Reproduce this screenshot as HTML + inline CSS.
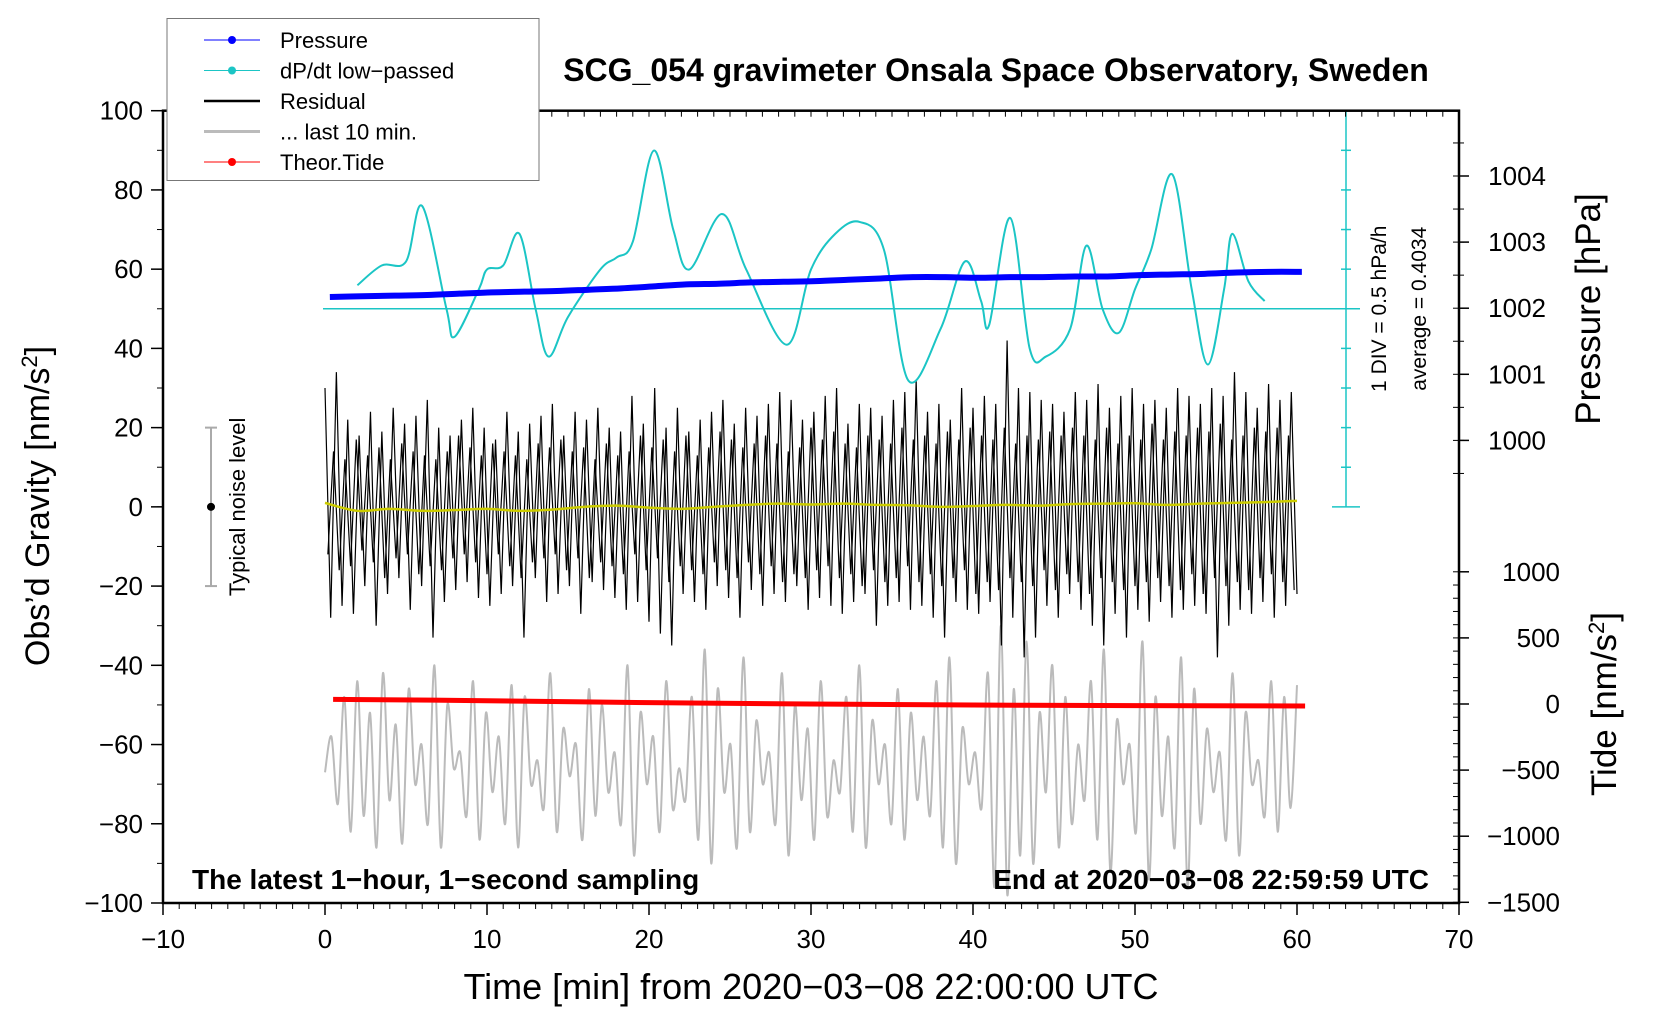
<!DOCTYPE html>
<html><head><meta charset="utf-8"><style>
body{margin:0;background:#fff}
svg{display:block;font-family:"Liberation Sans",Arial,sans-serif}
</style></head><body>
<svg id="c" width="1660" height="1020" viewBox="0 0 1660 1020"></svg>
<script>
const categoriesX=[-10,0,10,20,30,40,50,60,70];
const gravTicks=[100,80,60,40,20,0,-20,-40,-60,-80,-100];
const pressTicks=[1000,1001,1002,1003,1004];
const tideTicks=[1000,500,0,-500,-1000,-1500];
const pressure=[1002.17,1002.18,1002.19,1002.2,1002.22,1002.24,1002.25,1002.26,1002.28,1002.3,1002.33,1002.36,1002.37,1002.39,1002.40,1002.41,1002.43,1002.45,1002.47,1002.47,1002.46,1002.47,1002.47,1002.48,1002.48,1002.50,1002.51,1002.52,1002.54,1002.55,1002.55];
const dpdtTime=[2,3.5,5,6,7.5,8,9.5,10,11,12,13,13.8,15,17,18,19,20.3,21.5,22.5,24.5,26,28.5,30,31.5,33,34.5,36,38,39.5,40.5,41,42.3,43.5,44.5,46,47,48,49,50,51,52.3,53.5,54.5,55.5,56,57,58];
const dpdtValue=[0.70,0.95,1.00,1.70,0.40,0.05,0.65,0.90,0.95,1.35,0.40,-0.20,0.30,0.90,1.05,1.25,2.40,1.40,0.90,1.60,0.90,-0.05,0.90,1.35,1.50,1.15,-0.50,0.15,1.00,0.50,0.20,1.55,-0.10,-0.20,0.15,1.20,0.40,0.10,0.65,1.15,2.10,0.65,-0.30,0.65,1.35,0.75,0.50];
const residual=[30,-28,34,-25,22,-27,18,-20,24,-30,19,-22,25,-18,21,-26,23,-20,27,-33,20,-24,18,-21,22,-19,25,-23,20,-25,17,-22,24,-20,19,-33,21,-18,23,-24,26,-22,18,-20,24,-27,22,-19,25,-21,20,-23,19,-26,28,-24,21,-29,30,-32,20,-35,25,-22,19,-24,22,-26,24,-20,27,-23,21,-28,25,-21,23,-25,26,-22,29,-24,27,-20,22,-26,24,-23,28,-25,30,-27,21,-24,26,-22,25,-30,23,-25,27,-24,29,-26,32,-25,24,-28,26,-33,22,-24,30,-26,25,-27,28,-24,26,-35,42,-28,30,-38,29,-33,27,-25,26,-28,24,-22,29,-26,27,-30,31,-35,25,-27,28,-33,30,-26,26,-29,27,-24,25,-28,30,-26,28,-25,26,-27,30,-38,28,-30,34,-26,29,-27,25,-24,31,-28,27,-25,29,-22];
const residualFine=[-12,14,-16,12,-15,17,-11,13,-14,15,-18,12,-13,16,-12,14,-17,13,-15,12,-16,14,-13,18,-12,15,-14,13,-17,16,-12,14,-15,13,-18,12,-14,16,-13,15,-12,17,-16,14,-13,15,-18,12,-14,16,-15,13,-17,14,-12,18,-16,15,-13,17,-19,14,-15,18,-16,13,-17,15,-14,19,-16,17,-18,15,-14,16,-17,18,-15,16,-19,14,-17,15,-18,20,-16,17,-15,19,-18,16,-17,15,-20,18,-16,17,-19,16,-18,20,-15,17,-19,18,-17,16,-20,19,-18,17,-16,20,-22,18,-19,17,-21,20,-18,16,-19,18,-20,17,-16,19,-21,18,-17,20,-19,18,-22,17,-18,20,-19,16,-21,18,-20,17,-19,21,-18,17,-20,19,-21,18,-17,20,-22,19,-18,21,-20,17,-19,18,-21,20,-18,19,-17,20,-19,18,-21,17,-18,16];
const residualSmooth=[1,-1,-0.5,-1,-0.8,-0.5,-1,-0.7,0,0.3,-0.2,-0.5,0,0.5,0.8,0.6,0.8,0.5,0.4,0,0.2,0.5,0.3,0.7,0.8,0.9,0.5,0.8,1,1.2,1.5];
const last10=[-67,-58,-75,-48,-82,-44,-78,-52,-86,-42,-74,-55,-85,-46,-70,-60,-80,-40,-86,-50,-66,-62,-78,-44,-84,-52,-72,-58,-80,-45,-86,-48,-70,-64,-76,-42,-82,-56,-68,-60,-84,-46,-78,-50,-72,-62,-80,-40,-88,-52,-70,-58,-82,-44,-76,-66,-74,-48,-84,-36,-90,-46,-72,-60,-86,-38,-82,-54,-70,-62,-80,-42,-88,-50,-74,-56,-84,-44,-78,-64,-72,-48,-82,-40,-86,-54,-70,-60,-80,-46,-84,-52,-74,-58,-78,-44,-86,-38,-90,-56,-70,-62,-76,-42,-96,-30,-98,-46,-88,-34,-90,-52,-72,-40,-86,-48,-80,-60,-74,-44,-84,-36,-92,-54,-70,-60,-82,-34,-94,-48,-78,-58,-86,-38,-96,-46,-80,-56,-72,-62,-84,-42,-88,-52,-70,-64,-78,-44,-82,-48,-76,-45];
const tideTime=[0.5,10,20,30,40,50,60.5];
const tideValue=[35,25,10,0,-8,-12,-15];

const L=163,R=1459,T=110.7,B=903;
const X=t=>L+(t+10)*(R-L)/80;
const Y=g=>T+(100-g)*(B-T)/200;
const YP=p=>176+(1004-p)*66.1;
const YT=v=>704-v*66.1/500;
const DIV=Y(40)-Y(50);
const YD=v=>Y(50)-(v-0.4034)/0.5*DIV;
const svg=document.getElementById('c');
const NS='http://www.w3.org/2000/svg';
function mk(tag,at,parent){const e=document.createElementNS(NS,tag);for(const k in at)e.setAttribute(k,at[k]);(parent||svg).appendChild(e);return e;}
function txt(s,at,parent){const e=mk('text',at,parent);e.textContent=s;return e;}
function smooth(pts){let d='M'+pts[0][0]+','+pts[0][1];for(let i=0;i<pts.length-1;i++){const p0=pts[Math.max(0,i-1)],p1=pts[i],p2=pts[i+1],p3=pts[Math.min(pts.length-1,i+2)];d+=' C'+(p1[0]+(p2[0]-p0[0])/6)+','+(p1[1]+(p2[1]-p0[1])/6)+' '+(p2[0]-(p3[0]-p1[0])/6)+','+(p2[1]-(p3[1]-p1[1])/6)+' '+p2[0]+','+p2[1];}return d;}

// grey last 10 min
let g=mk('path',{d:smooth(last10.map((v,i)=>[X(i*60/(last10.length-1)),Y(v)])),fill:'none',stroke:'#bbb','stroke-width':2});

// residual: two phase-shifted sample sets
const n=residual.length;
let r=mk('polyline',{points:residual.map((v,i)=>X(i*60/(n-1))+','+Y(v)).join(' '),fill:'none',stroke:'#000','stroke-width':1.2});

let r2=mk('polyline',{points:residualFine.slice(0,n-1).map((v,i)=>X((i+0.5)*60/(n-1))+','+Y(v)).join(' '),fill:'none',stroke:'#000','stroke-width':1.2});

let ys=mk('path',{d:smooth(residualSmooth.map((v,i)=>[X(i*2),Y(v)])),fill:'none',stroke:'#cccc00','stroke-width':2.5});

// tide
let td=mk('path',{d:smooth(tideTime.map((t,i)=>[X(t),YT(tideValue[i])])),fill:'none',stroke:'#f00','stroke-width':5});

// cyan reference
mk('line',{x1:X(0)-2,x2:1360,y1:Y(50),y2:Y(50),stroke:'#1bc5c5','stroke-width':1.5});
mk('line',{x1:1346,x2:1346,y1:T,y2:Y(0),stroke:'#1bc5c5','stroke-width':1.5});
for(let k=0;k<=10;k++){const yy=Y(100-k*10);const w=(k==0||k==5||k==10)?14:5;mk('line',{x1:1346-w,x2:1346+w,y1:yy,y2:yy,stroke:'#1bc5c5','stroke-width':1.5});}
let cy=mk('path',{d:smooth(dpdtTime.map((t,i)=>[X(t),YD(dpdtValue[i])])),fill:'none',stroke:'#1bc5c5','stroke-width':2});

// pressure
let pr=mk('path',{d:smooth(pressure.map((p,i)=>[X(i*2+0.3),YP(p)])),fill:'none',stroke:'#0000ff','stroke-width':6});

txt('1 DIV = 0.5 hPa/h',{x:0,y:0,'font-size':21,'text-anchor':'middle',transform:`translate(1386,${Y(50)}) rotate(-90)`});
txt('average = 0.4034',{x:0,y:0,'font-size':21,'text-anchor':'middle',transform:`translate(1426,${Y(50)}) rotate(-90)`});

// axes frame
mk('rect',{x:L,y:T,width:R-L,height:B-T,fill:'none',stroke:'#000','stroke-width':2.5});
categoriesX.forEach(t=>{mk('line',{x1:X(t),x2:X(t),y1:B,y2:B+12,stroke:'#000','stroke-width':1.5});txt(String(t).replace('-','\u2212'),{x:X(t),y:B+45,'font-size':26,'text-anchor':'middle'});});
for(let t=-10;t<=70;t++){mk('line',{x1:X(t),x2:X(t),y1:B,y2:B+6,stroke:'#000'});mk('line',{x1:X(t),x2:X(t),y1:T,y2:T+6,stroke:'#000'});}
gravTicks.forEach(v=>{mk('line',{x1:L-12,x2:L,y1:Y(v),y2:Y(v),stroke:'#000','stroke-width':1.5});txt(String(v).replace('-','\u2212'),{x:L-20,y:Y(v)+9,'font-size':26,'text-anchor':'end'});});
for(let v=-100;v<=100;v+=10)mk('line',{x1:L-6,x2:L,y1:Y(v),y2:Y(v),stroke:'#000'});
pressTicks.forEach(p=>{mk('line',{x1:R,x2:R+10,y1:YP(p),y2:YP(p),stroke:'#000','stroke-width':1.5});txt(String(p),{x:1546,y:YP(p)+9,'font-size':26,'text-anchor':'end'});});
for(let p=999.5;p<=1005.5;p+=0.5){if(YP(p)>T&&YP(p)<Y(0))mk('line',{x1:R-6,x2:R+5,y1:YP(p),y2:YP(p),stroke:'#000'});}
tideTicks.forEach(v=>{mk('line',{x1:R,x2:R+10,y1:YT(v),y2:YT(v),stroke:'#000','stroke-width':1.5});txt(String(v).replace('-','\u2212'),{x:1560,y:YT(v)+9,'font-size':26,'text-anchor':'end'});});
for(let v=-1500;v<=1000;v+=100)mk('line',{x1:R-6,x2:R,y1:YT(v),y2:YT(v),stroke:'#000'});

// titles
txt('SCG_054 gravimeter Onsala Space Observatory, Sweden',{x:996,y:81,'font-size':32,'font-weight':'bold','text-anchor':'middle',});
txt('Time [min] from 2020\u221203\u221208 22:00:00 UTC',{x:811,y:999,'font-size':36,'text-anchor':'middle',});
const yt=txt('',{x:0,y:0,'font-size':34,'text-anchor':'middle',transform:'translate(49,506) rotate(-90)',});
yt.innerHTML='Obs\u2019d Gravity [nm/s<tspan dy="-12" font-size="22">2</tspan><tspan dy="12">]</tspan>';
txt('Pressure [hPa]',{x:0,y:0,'font-size':35,'text-anchor':'middle',transform:'translate(1600,309) rotate(-90)',});
const tt=txt('',{x:0,y:0,'font-size':35,'text-anchor':'middle',transform:'translate(1616,704) rotate(-90)',});
tt.innerHTML='Tide [nm/s<tspan dy="-12" font-size="22">2</tspan><tspan dy="12">]</tspan>';
txt('The latest 1\u2212hour, 1\u2212second sampling',{x:192,y:889,'font-size':28,'font-weight':'bold',});
txt('End at 2020\u221203\u221208 22:59:59 UTC',{x:1429,y:889,'font-size':28,'font-weight':'bold','text-anchor':'end',});
// noise bar
mk('line',{x1:211,x2:211,y1:Y(20),y2:Y(-20),stroke:'#aaa','stroke-width':2});
mk('line',{x1:205,x2:217,y1:Y(20),y2:Y(20),stroke:'#aaa','stroke-width':2});
mk('line',{x1:205,x2:217,y1:Y(-20),y2:Y(-20),stroke:'#aaa','stroke-width':2});
mk('circle',{cx:211,cy:Y(0),r:4,fill:'#000'});
txt('Typical noise level',{x:0,y:0,'font-size':22,'text-anchor':'middle',transform:`translate(245,${Y(0)}) rotate(-90)`,});
// legend
const lg=mk('g',{});
mk('rect',{x:167,y:18.5,width:372,height:162,fill:'#fff',stroke:'#777','stroke-width':1},lg);
const items=[['Pressure','#0000ff',1,true],['dP/dt low\u2212passed','#1bc5c5',1,true],['Residual','#000',2.5,false],['... last 10 min.','#bbb',3,false],['Theor.Tide','#f00',1,true]];
items.forEach((it,i)=>{const yy=40+i*30.5;const e=mk('g',{},lg);

mk('line',{x1:204,x2:260,y1:yy,y2:yy,stroke:it[1],'stroke-width':it[2]},e);
if(it[3])mk('circle',{cx:232,cy:yy,r:4,fill:it[1]},e);
txt(it[0],{x:280,y:yy+8,'font-size':22},e);});
</script>
</body></html>
